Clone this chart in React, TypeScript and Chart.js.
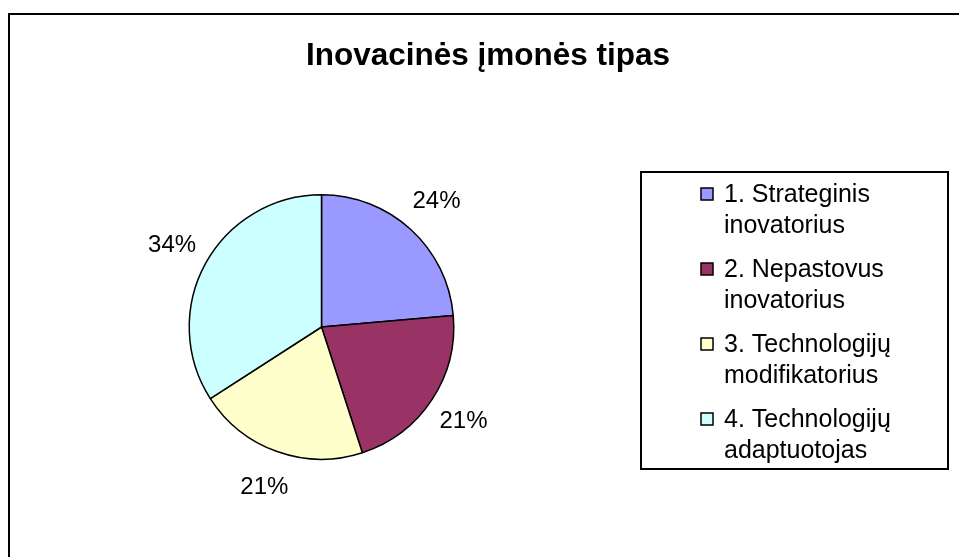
import React, { useEffect, useRef } from "react";
import { Chart, registerables } from "chart.js";

Chart.register(...registerables);

const titleText = "Inovacinės įmonės tipas";
const categories: string[][] = [
  ["1. Strateginis", "inovatorius"],
  ["2. Nepastovus", "inovatorius"],
  ["3. Technologijų", "modifikatorius"],
  ["4. Technologijų", "adaptuotojas"],
];
const values = [23.6, 21.4, 20.9, 34.1];
const colors = ["#9999FF", "#993366", "#FFFFCC", "#CCFFFF"];

const FONT = "'Liberation Sans', Arial, sans-serif";

const decorPlugin = {
  id: "decor",
  afterDraw(chart: any) {
    const ctx: CanvasRenderingContext2D = chart.ctx;
    ctx.save();
    // outer frame (top and left visible)
    ctx.strokeStyle = "#000";
    ctx.lineWidth = 2;
    ctx.strokeRect(9, 14, 980, 600);

    // title
    ctx.fillStyle = "#000";
    ctx.font = `bold 31.5px ${FONT}`;
    ctx.textAlign = "center";
    ctx.textBaseline = "alphabetic";
    ctx.fillText(titleText, 488, 65);

    // percentage labels
    const meta = chart.getDatasetMeta(0);
    const total = values.reduce((a, b) => a + b, 0);
    ctx.font = `24px ${FONT}`;
    ctx.textBaseline = "middle";
    meta.data.forEach((arc: any, i: number) => {
      const mid = (arc.startAngle + arc.endAngle) / 2;
      const d = arc.outerRadius + 38;
      const x = arc.x + Math.cos(mid) * d;
      const y = arc.y + Math.sin(mid) * d;
      ctx.fillText(Math.round((values[i] / total) * 100) + "%", x, y);
    });

    // legend
    ctx.lineWidth = 2;
    ctx.strokeRect(641, 172, 307, 297);
    ctx.font = `25px ${FONT}`;
    ctx.textAlign = "left";
    ctx.textBaseline = "alphabetic";
    categories.forEach((lines, i) => {
      const base = 202 + i * 75;
      ctx.fillStyle = colors[i];
      ctx.fillRect(701, base - 14, 12, 12);
      ctx.lineWidth = 1.5;
      ctx.strokeStyle = "#000";
      ctx.strokeRect(701, base - 14, 12, 12);
      ctx.fillStyle = "#000";
      lines.forEach((ln, j) => {
        ctx.fillText(ln, 724, base + j * 31);
      });
    });
    ctx.restore();
  },
};

export default function App() {
  const ref = useRef<HTMLCanvasElement | null>(null);
  useEffect(() => {
    if (!ref.current) return;
    const chart = new Chart(ref.current, {
      type: "pie",
      data: {
        labels: categories.map((c) => c.join(" ")),
        datasets: [
          {
            data: values,
            backgroundColor: colors,
            borderColor: "#000",
            borderWidth: 1.5,
          },
        ],
      },
      options: {
        responsive: false,
        animation: false,
        layout: { padding: { left: 188, right: 504, top: 194, bottom: 97 } },
        plugins: {
          legend: { display: false },
          tooltip: { enabled: false },
          title: { display: false },
        },
      },
      plugins: [decorPlugin],
    });
    return () => chart.destroy();
  }, []);
  return (
    <div style={{ position: "fixed", left: 0, top: 0, width: 959, height: 557, background: "#fff" }}>
      <canvas ref={ref} width={959} height={557} style={{ width: 959, height: 557, display: "block" }} />
    </div>
  );
}
